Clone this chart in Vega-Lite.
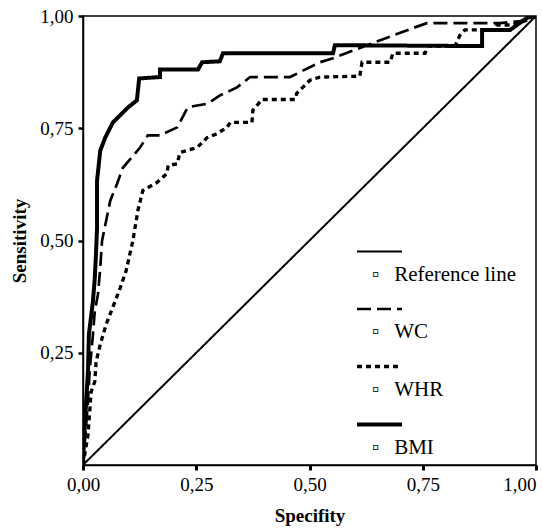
{
  "$schema": "https://vega.github.io/schema/vega-lite/v6.json",
  "width": 453,
  "height": 449,
  "autosize": "none",
  "padding": {"left": 83, "top": 16, "right": 6, "bottom": 63},
  "background": "white",
  "config": {
    "view": {"stroke": "black", "strokeWidth": 1.5},
    "font": "Liberation Serif, Times New Roman, serif",
    "axis": {
      "grid": false,
      "domainColor": "black",
      "domainWidth": 1.5,
      "tickColor": "black",
      "labelColor": "black",
      "titleColor": "black",
      "labelFont": "Liberation Serif, Times New Roman, serif",
      "titleFont": "Liberation Serif, Times New Roman, serif",
      "labelFontSize": 19,
      "titleFontSize": 19,
      "titleFontWeight": "bold"
    }
  },
  "data": {
    "values": [
      {"s": "Reference line", "i": 0, "x": 0, "y": 0},
      {"s": "Reference line", "i": 1, "x": 1, "y": 1},

      {"s": "WC", "i": 0, "x": 0, "y": 0},
      {"s": "WC", "i": 1, "x": 0.011, "y": 0.141},
      {"s": "WC", "i": 2, "x": 0.015, "y": 0.215},
      {"s": "WC", "i": 3, "x": 0.022, "y": 0.291},
      {"s": "WC", "i": 4, "x": 0.026, "y": 0.342},
      {"s": "WC", "i": 5, "x": 0.033, "y": 0.38},
      {"s": "WC", "i": 6, "x": 0.038, "y": 0.438},
      {"s": "WC", "i": 7, "x": 0.042, "y": 0.499},
      {"s": "WC", "i": 8, "x": 0.06, "y": 0.588},
      {"s": "WC", "i": 9, "x": 0.075, "y": 0.626},
      {"s": "WC", "i": 10, "x": 0.088, "y": 0.662},
      {"s": "WC", "i": 11, "x": 0.126, "y": 0.707},
      {"s": "WC", "i": 12, "x": 0.143, "y": 0.734},
      {"s": "WC", "i": 13, "x": 0.17, "y": 0.734},
      {"s": "WC", "i": 14, "x": 0.208, "y": 0.752},
      {"s": "WC", "i": 15, "x": 0.23, "y": 0.794},
      {"s": "WC", "i": 16, "x": 0.243, "y": 0.799},
      {"s": "WC", "i": 17, "x": 0.276, "y": 0.805},
      {"s": "WC", "i": 18, "x": 0.302, "y": 0.823},
      {"s": "WC", "i": 19, "x": 0.34, "y": 0.841},
      {"s": "WC", "i": 20, "x": 0.369, "y": 0.864},
      {"s": "WC", "i": 21, "x": 0.457, "y": 0.864},
      {"s": "WC", "i": 22, "x": 0.523, "y": 0.897},
      {"s": "WC", "i": 23, "x": 0.552, "y": 0.906},
      {"s": "WC", "i": 24, "x": 0.627, "y": 0.935},
      {"s": "WC", "i": 25, "x": 0.728, "y": 0.973},
      {"s": "WC", "i": 26, "x": 0.759, "y": 0.984},
      {"s": "WC", "i": 27, "x": 0.921, "y": 0.984},
      {"s": "WC", "i": 28, "x": 0.987, "y": 0.991},
      {"s": "WC", "i": 29, "x": 1, "y": 1},

      {"s": "WHR", "i": 0, "x": 0, "y": 0},
      {"s": "WHR", "i": 1, "x": 0.011, "y": 0.067},
      {"s": "WHR", "i": 2, "x": 0.018, "y": 0.163},
      {"s": "WHR", "i": 3, "x": 0.026, "y": 0.186},
      {"s": "WHR", "i": 4, "x": 0.029, "y": 0.23},
      {"s": "WHR", "i": 5, "x": 0.038, "y": 0.268},
      {"s": "WHR", "i": 6, "x": 0.051, "y": 0.313},
      {"s": "WHR", "i": 7, "x": 0.071, "y": 0.365},
      {"s": "WHR", "i": 8, "x": 0.082, "y": 0.394},
      {"s": "WHR", "i": 9, "x": 0.095, "y": 0.432},
      {"s": "WHR", "i": 10, "x": 0.11, "y": 0.499},
      {"s": "WHR", "i": 11, "x": 0.121, "y": 0.566},
      {"s": "WHR", "i": 12, "x": 0.132, "y": 0.611},
      {"s": "WHR", "i": 13, "x": 0.163, "y": 0.629},
      {"s": "WHR", "i": 14, "x": 0.185, "y": 0.649},
      {"s": "WHR", "i": 15, "x": 0.188, "y": 0.667},
      {"s": "WHR", "i": 16, "x": 0.208, "y": 0.671},
      {"s": "WHR", "i": 17, "x": 0.214, "y": 0.696},
      {"s": "WHR", "i": 18, "x": 0.252, "y": 0.707},
      {"s": "WHR", "i": 19, "x": 0.274, "y": 0.729},
      {"s": "WHR", "i": 20, "x": 0.296, "y": 0.738},
      {"s": "WHR", "i": 21, "x": 0.318, "y": 0.752},
      {"s": "WHR", "i": 22, "x": 0.325, "y": 0.763},
      {"s": "WHR", "i": 23, "x": 0.373, "y": 0.763},
      {"s": "WHR", "i": 24, "x": 0.375, "y": 0.79},
      {"s": "WHR", "i": 25, "x": 0.395, "y": 0.814},
      {"s": "WHR", "i": 26, "x": 0.468, "y": 0.814},
      {"s": "WHR", "i": 27, "x": 0.472, "y": 0.828},
      {"s": "WHR", "i": 28, "x": 0.501, "y": 0.857},
      {"s": "WHR", "i": 29, "x": 0.523, "y": 0.864},
      {"s": "WHR", "i": 30, "x": 0.611, "y": 0.866},
      {"s": "WHR", "i": 31, "x": 0.616, "y": 0.897},
      {"s": "WHR", "i": 32, "x": 0.678, "y": 0.897},
      {"s": "WHR", "i": 33, "x": 0.684, "y": 0.917},
      {"s": "WHR", "i": 34, "x": 0.755, "y": 0.917},
      {"s": "WHR", "i": 35, "x": 0.762, "y": 0.933},
      {"s": "WHR", "i": 36, "x": 0.821, "y": 0.933},
      {"s": "WHR", "i": 37, "x": 0.832, "y": 0.957},
      {"s": "WHR", "i": 38, "x": 0.843, "y": 0.969},
      {"s": "WHR", "i": 39, "x": 0.909, "y": 0.969},
      {"s": "WHR", "i": 40, "x": 0.914, "y": 0.98},
      {"s": "WHR", "i": 41, "x": 0.949, "y": 0.98},
      {"s": "WHR", "i": 42, "x": 0.987, "y": 0.993},
      {"s": "WHR", "i": 43, "x": 1, "y": 1},

      {"s": "BMI", "i": 0, "x": 0, "y": 0},
      {"s": "BMI", "i": 1, "x": 0.002, "y": 0.051},
      {"s": "BMI", "i": 2, "x": 0.007, "y": 0.141},
      {"s": "BMI", "i": 3, "x": 0.011, "y": 0.208},
      {"s": "BMI", "i": 4, "x": 0.013, "y": 0.291},
      {"s": "BMI", "i": 5, "x": 0.022, "y": 0.365},
      {"s": "BMI", "i": 6, "x": 0.026, "y": 0.416},
      {"s": "BMI", "i": 7, "x": 0.029, "y": 0.477},
      {"s": "BMI", "i": 8, "x": 0.031, "y": 0.528},
      {"s": "BMI", "i": 9, "x": 0.031, "y": 0.633},
      {"s": "BMI", "i": 10, "x": 0.038, "y": 0.7},
      {"s": "BMI", "i": 11, "x": 0.049, "y": 0.729},
      {"s": "BMI", "i": 12, "x": 0.066, "y": 0.763},
      {"s": "BMI", "i": 13, "x": 0.099, "y": 0.796},
      {"s": "BMI", "i": 14, "x": 0.119, "y": 0.812},
      {"s": "BMI", "i": 15, "x": 0.124, "y": 0.861},
      {"s": "BMI", "i": 16, "x": 0.17, "y": 0.864},
      {"s": "BMI", "i": 17, "x": 0.17, "y": 0.881},
      {"s": "BMI", "i": 18, "x": 0.254, "y": 0.881},
      {"s": "BMI", "i": 19, "x": 0.263, "y": 0.897},
      {"s": "BMI", "i": 20, "x": 0.302, "y": 0.899},
      {"s": "BMI", "i": 21, "x": 0.309, "y": 0.917},
      {"s": "BMI", "i": 22, "x": 0.552, "y": 0.917},
      {"s": "BMI", "i": 23, "x": 0.556, "y": 0.935},
      {"s": "BMI", "i": 24, "x": 0.881, "y": 0.933},
      {"s": "BMI", "i": 25, "x": 0.881, "y": 0.969},
      {"s": "BMI", "i": 26, "x": 0.943, "y": 0.969},
      {"s": "BMI", "i": 27, "x": 0.98, "y": 0.996},
      {"s": "BMI", "i": 28, "x": 1, "y": 1}
    ]
  },
  "mark": {"type": "line", "color": "black", "strokeCap": "butt", "strokeJoin": "miter", "clip": true},
  "encoding": {
    "x": {
      "field": "x",
      "type": "quantitative",
      "scale": {"domain": [0, 1], "nice": false, "zero": false},
      "axis": {
        "title": "Specifity",
        "values": [0, 0.25, 0.5, 0.75, 1],
        "labelExpr": "replace(format(datum.value, '.2f'), '.', ',')",
        "labelAlign": {"condition": {"test": "datum.value == 1", "value": "right"}, "value": "center"},
        "tickSize": 5,
        "tickWidth": 3,
        "labelPadding": 5,
        "titlePadding": 12
      }
    },
    "y": {
      "field": "y",
      "type": "quantitative",
      "scale": {"domain": [0, 1], "nice": false, "zero": false},
      "axis": {
        "title": "Sensitivity",
        "values": [0.25, 0.5, 0.75, 1],
        "labelExpr": "replace(format(datum.value, '.2f'), '.', ',')",
        "tickSize": 5,
        "tickWidth": 2.5,
        "labelPadding": 5,
        "titlePadding": 10
      }
    },
    "order": {"field": "i", "type": "quantitative"},
    "strokeDash": {
      "field": "s",
      "type": "nominal",
      "scale": {
        "domain": ["Reference line", "WC", "WHR", "BMI"],
        "range": [[1, 0], [14, 6], [5, 4], [1, 0]]
      },
      "legend": {
        "orient": "none",
        "legendX": 272,
        "legendY": 212,
        "title": null,
        "padding": 0,
        "symbolType": "stroke",
        "symbolSize": 2025,
        "symbolStrokeWidth": 3.5,
        "symbolStrokeColor": "black",
        "labelFont": "Liberation Serif, Times New Roman, serif",
        "labelFontSize": 21,
        "labelColor": "black",
        "labelExpr": "['', '▫\u2002\u2009' + datum.label]",
        "labelBaseline": "middle",
        "labelLineHeight": 46,
        "labelOffset": -32,
        "rowPadding": -14,
        "labelLimit": 300,
        "symbolDash": [1, 0],
        "encode": {
          "symbols": {
            "update": {
              "strokeWidth": {"signal": "datum.value === 'BMI' ? 2.5 : 3.5"}
            }
          }
        }
      }
    },
    "strokeWidth": {
      "field": "s",
      "type": "ordinal",
      "scale": {
        "domain": ["Reference line", "WC", "WHR", "BMI"],
        "range": [2, 4, 4, 3.5]
      },
      "legend": null
    }
  }
}
